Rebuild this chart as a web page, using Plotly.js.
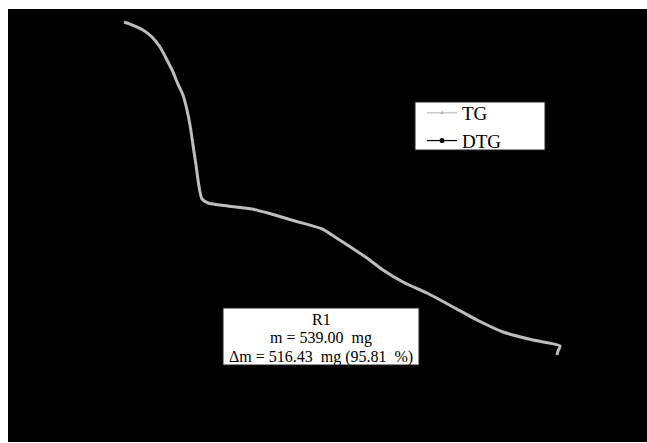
<!DOCTYPE html>
<html>
<head>
<meta charset="utf-8">
<script src="https://cdn.plot.ly/plotly-3.0.1.min.js"></script>
<style>html,body{margin:0;padding:0;background:#fff;}</style>
</head>
<body>
<div id="chart" style="width:647px;height:443px;"></div>
<script>
// Temperature (°C) and residual mass (%)
const temperature = [28, 40, 66, 84, 100, 114, 126, 134, 146, 154, 160, 166, 172, 176, 180, 184, 196, 236, 284, 316, 370, 424, 450, 484, 514, 546, 586, 634, 686, 734, 786, 846, 900, 896, 894];
const tgMass = [100.0, 99.42, 97.70, 95.68, 92.81, 89.07, 85.62, 82.74, 79.00, 74.68, 70.37, 64.61, 58.86, 54.54, 51.09, 49.08, 47.93, 47.06, 46.20, 45.05, 42.75, 40.45, 38.14, 34.98, 32.10, 28.65, 25.20, 22.03, 18.01, 14.26, 10.81, 8.51, 6.79, 5.35, 4.19];
// DTG curve is drawn in black on the black plot area (not readable)
const dtgTemperature = [null];
const dtgValues = [null];
const seriesNames = ["TG", "DTG"];
const annotationLines = ["R1", "m = 539.00\u00a0\u00a0mg", "\u0394m = 516.43\u00a0\u00a0mg (95.81\u00a0\u00a0%)"];

const SERIF = "Liberation Serif";
const L = 8, T = 9, PW = 639, PH = 433;
const px = v => (v - L) / PW;
const py = v => 1 - (v - T) / PH;

const traces = [
  {
    x: temperature, y: tgMass, name: seriesNames[0], type: "scatter", mode: "lines",
    line: {color: "#bdbdbd", width: 3, shape: "spline", smoothing: 0.6},
    legendgroup: "tg", showlegend: false
  },
  {
    x: [null], y: [null], name: seriesNames[0], type: "scatter", mode: "lines+markers",
    line: {color: "#b5b5b5", width: 1}, marker: {color: "#b5b5b5", size: 3},
    legendgroup: "tg", showlegend: true
  },
  {
    x: dtgTemperature, y: dtgValues, name: seriesNames[1], type: "scatter", mode: "lines+markers",
    line: {color: "#000000", width: 1.2},
    marker: {color: "#000000", size: 5}, showlegend: true
  }
];

const lineY = [319, 338, 357];
const annotations = annotationLines.map((t, i) => ({
  xref: "paper", yref: "paper", x: px(321), y: py(lineY[i]), xanchor: "center", yanchor: "middle",
  text: t, showarrow: false,
  font: {family: SERIF, size: 16, color: "#000"}
}));

const layout = {
  width: 647, height: 443,
  margin: {l: L, r: 0, t: T, b: 1},
  paper_bgcolor: "#ffffff",
  plot_bgcolor: "#000000",
  showlegend: true,
  xaxis: {range: [-204, 1074], showgrid: false, zeroline: false, showticklabels: false, showline: false, ticks: ""},
  yaxis: {range: [-20.83, 103.74], showgrid: false, zeroline: false, showticklabels: false, showline: false, ticks: ""},
  legend: {
    x: px(422), y: py(94), xanchor: "left", yanchor: "top",
    bgcolor: "rgba(0,0,0,0)", borderwidth: 0,
    font: {family: SERIF, size: 19, color: "#000"},
    itemwidth: 30, tracegroupgap: 0
  },
  shapes: [
    {type: "rect", xref: "paper", yref: "paper", x0: px(415), x1: px(545), y0: py(102), y1: py(150),
     fillcolor: "#ffffff", line: {color: "#222222", width: 1}, layer: "above"},
    {type: "rect", xref: "paper", yref: "paper", x0: px(223), x1: px(419), y0: py(308), y1: py(365),
     fillcolor: "#ffffff", line: {color: "#222222", width: 1}, layer: "above"}
  ],
  annotations: annotations
};

Plotly.newPlot("chart", traces, layout, {displayModeBar: false, staticPlot: true});
</script>
</body>
</html>
